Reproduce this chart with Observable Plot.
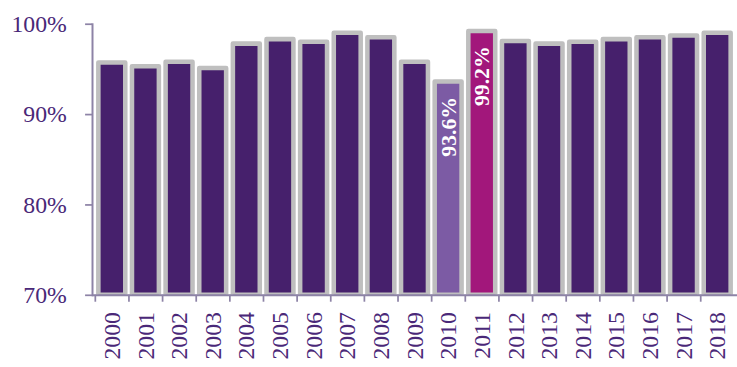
<!DOCTYPE html>
<html>
<head>
<meta charset="utf-8">
<script src="https://cdn.jsdelivr.net/npm/d3@7"></script>
<script src="https://cdn.jsdelivr.net/npm/@observablehq/plot@0.6"></script>
<style>
  html, body { margin: 0; padding: 0; background: #fff; overflow: hidden; }
  #chart { width: 737px; height: 367px; overflow: hidden; }
</style>
</head>
<body>
<div id="chart"></div>
<script>
// Yearly share (%), 2000–2018
const years = [2000, 2001, 2002, 2003, 2004, 2005, 2006, 2007, 2008, 2009,
               2010, 2011, 2012, 2013, 2014, 2015, 2016, 2017, 2018];
const shares = [95.7, 95.3, 95.8, 95.1, 97.8, 98.3, 98.0, 99.0, 98.5, 95.8,
                93.6, 99.2, 98.1, 97.8, 98.0, 98.3, 98.5, 98.7, 99.0];
const yTicks = [70, 80, 90, 100];
const lowYear = 2010;   // lowest year, labelled
const highYear = 2011;  // highest year, labelled

const data = years.map((year, i) => ({year: String(year), value: year, share: shares[i]}));
const labelled = data.filter(d => d.value === lowYear || d.value === highYear);

const fontFamily = "Liberation Serif";
const textColor = "#4a2878";
const axisColor = "#8d83a6";
const barFill = d => d.value === lowYear ? "#7c5ba4" : d.value === highYear ? "#a2177b" : "#46206c";

const width = 745, marginLeft = 93, marginRight = 0;
const bandWidth = (width - marginLeft - marginRight) / years.length;

const chart = Plot.plot({
  width,
  height: 367,
  marginLeft,
  marginRight,
  marginTop: 24,
  marginBottom: 69,
  style: {fontSize: "24px", fontFamily, background: "#fff"},
  x: {type: "band", domain: data.map(d => d.year), padding: 0, axis: null},
  y: {domain: [70, 100], axis: null},
  marks: [
    Plot.barY(data, {
      x: "year", y1: 70, y2: "share",
      fill: barFill,
      stroke: "#bfbfbf", strokeWidth: 4.6, strokeLinejoin: "round",
      insetLeft: 3.4, insetRight: 3.4,
      clip: true
    }),
    Plot.text(labelled, {
      x: "year", y: "share",
      text: d => d.share.toFixed(1) + "%",
      rotate: -90, textAnchor: "end", dy: 15,
      fill: "white", fontWeight: "bold", fontSize: 22, fontFamily
    }),
    Plot.frame({anchor: "left", stroke: axisColor, strokeWidth: 2}),
    Plot.ruleY([70], {stroke: axisColor, strokeWidth: 2}),
    Plot.axisY({
      ticks: yTicks, tickFormat: d => d + "%",
      tickSize: 7, tickPadding: 19,
      stroke: axisColor, strokeWidth: 1.75, fill: textColor,
      fontSize: 24, fontFamily, label: null
    }),
    Plot.axisX({
      ticks: data.map(d => d.year), tickSize: 7, text: null,
      dx: -bandWidth / 2, stroke: axisColor, strokeWidth: 1.75, label: null
    }),
    Plot.axisX({
      ticks: data.map(d => d.year), tickSize: 0, tickPadding: 17,
      tickRotate: -90, fill: textColor, fontSize: 24, fontFamily, label: null
    })
  ]
});

// make sure every label uses the serif face
d3.select(chart).selectAll("text").style("font-family", fontFamily);

document.getElementById("chart").appendChild(chart);
</script>
</body>
</html>
